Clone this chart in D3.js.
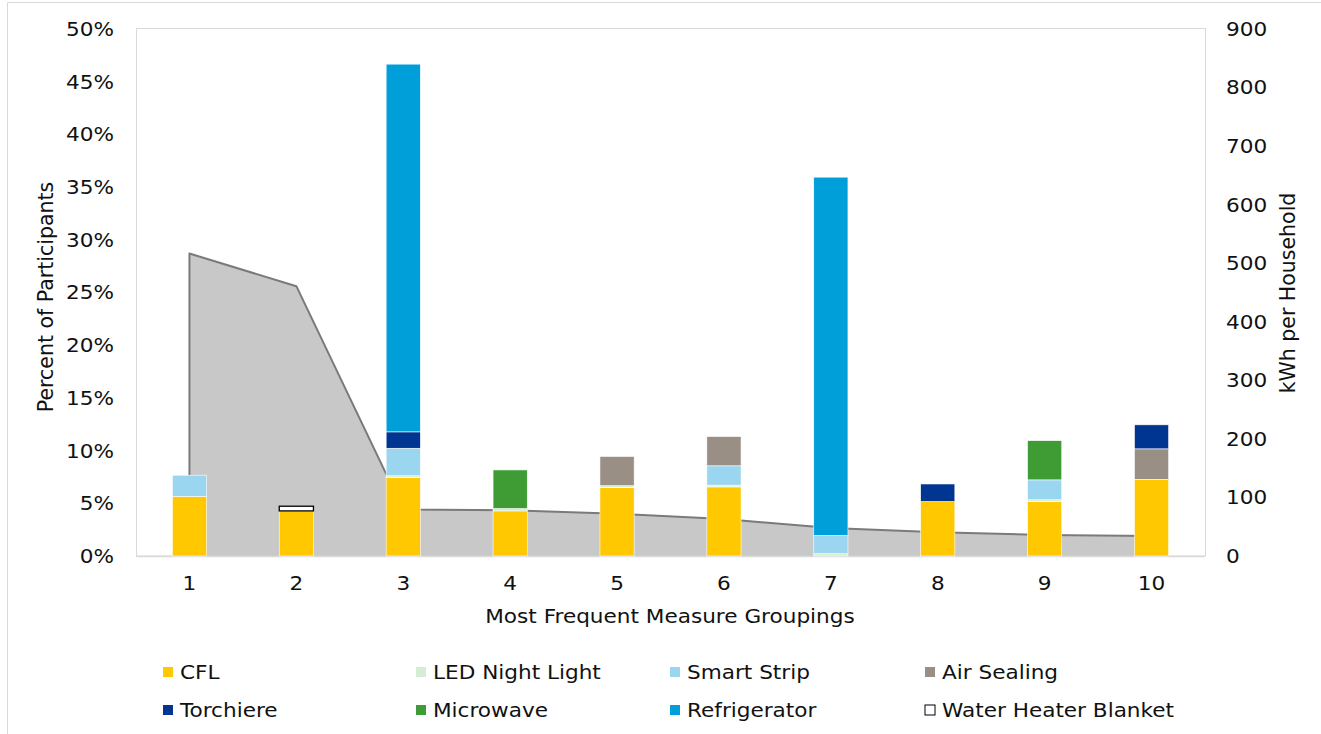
<!DOCTYPE html>
<html>
<head>
<meta charset="utf-8">
<script src="https://cdn.jsdelivr.net/npm/d3@7"></script>
<style>
  html, body { margin: 0; padding: 0; background: #fff; }
  svg { display: block; }
  text { font-family: "DejaVu Sans", Verdana, sans-serif; fill: #111; }
</style>
</head>
<body>
<svg id="chart" width="1321" height="734"></svg>
<script>
// Measure groupings along the x axis
const categories = ["1", "2", "3", "4", "5", "6", "7", "8", "9", "10"];

// Share of participants in each grouping (left axis, %)
const participantPct = [28.7, 25.6, 4.4, 4.35, 4.0, 3.5, 2.65, 2.25, 2.0, 1.9];

// Savings per household by measure (right axis, kWh)
const measures = ["CFL", "LED Night Light", "Smart Strip", "Air Sealing",
                  "Torchiere", "Microwave", "Refrigerator", "Water Heater Blanket"];
const cfl                = [102, 77, 134, 77, 117, 118,   0, 93, 93, 131];
const ledNightLight      = [  0,  0,   3,  4,   3,   3,   4,  0,  3,   0];
const smartStrip         = [ 36,  0,  47,  0,   0,  33,  31,  0, 34,   0];
const airSealing         = [  0,  0,   0,  0,  50,  50,   0,  0,  0,  52];
const torchiere          = [  0,  0,  28,  0,   0,   0,   0, 30,  0,  41];
const microwave          = [  0,  0,   0, 66,   0,   0,   0,  0, 67,   0];
const refrigerator       = [  0,  0, 628,  0,   0,   0, 612,  0,  0,   0];
const waterHeaterBlanket = [  0,  8,   0,  0,   0,   0,   0,  0,  0,   0];

const leftTicks = [0, 5, 10, 15, 20, 25, 30, 35, 40, 45, 50];
const rightTicks = [0, 100, 200, 300, 400, 500, 600, 700, 800, 900];

const colors = {
  "CFL": "#FFC800",
  "LED Night Light": "#D5EED3",
  "Smart Strip": "#9AD6EF",
  "Air Sealing": "#998F85",
  "Torchiere": "#003591",
  "Microwave": "#3F9C35",
  "Refrigerator": "#009FDA",
  "Water Heater Blanket": "#FFFFFF"
};

const seriesValues = [cfl, ledNightLight, smartStrip, airSealing,
                      torchiere, microwave, refrigerator, waterHeaterBlanket];

const table = categories.map((c, i) => {
  const row = { category: c };
  measures.forEach((m, k) => { row[m] = seriesValues[k][i]; });
  return row;
});

const svg = d3.select("#chart");
const plot = { left: 136, right: 1205, top: 29, bottom: 556 };
const fs = 20;      // label font size
const sx = 1.08;    // horizontal widening of the label face

// widen horizontal text around its own anchor point
function widen(sel) {
  sel.each(function () {
    const t = d3.select(this);
    const ax = +(t.attr("x") || 0);
    t.attr("transform", `translate(${ax},0) scale(${sx},1) translate(${-ax},0)`);
  });
}

// outer chart frame
svg.append("path")
  .attr("d", "M7.5,740 V2.5 H1330")
  .attr("fill", "none").attr("stroke", "#D9D9D9").attr("stroke-width", 1);

const x = d3.scaleBand().domain(categories)
  .range([plot.left, plot.right]).paddingInner(0.68).paddingOuter(0.34);
const yLeft = d3.scaleLinear().domain([0, 50]).range([plot.bottom, plot.top]);
const yRight = d3.scaleLinear().domain([0, 900]).range([plot.bottom, plot.top]);
const cx = c => x(c) + x.bandwidth() / 2;

// plot-area frame
svg.append("rect")
  .attr("x", plot.left + 0.5).attr("y", plot.top - 0.5)
  .attr("width", plot.right - plot.left).attr("height", plot.bottom - plot.top + 0.5)
  .attr("fill", "none").attr("stroke", "#D9D9D9").attr("stroke-width", 1);

// participant share as a shaded area
const pts = categories.map((c, i) => [cx(c), yLeft(participantPct[i])]);
const area = d3.area().x(d => d[0]).y0(yLeft(0)).y1(d => d[1]);
svg.append("path").datum(pts)
  .attr("d", area).attr("fill", "#C8C8C8");
const outline = d3.line();
svg.append("path")
  .datum([[pts[0][0], yLeft(0)], ...pts, [pts[pts.length - 1][0], yLeft(0)]])
  .attr("d", outline)
  .attr("fill", "none").attr("stroke", "#7A7A7A").attr("stroke-width", 2)
  .attr("stroke-linejoin", "round");

// x axis baseline
svg.append("line")
  .attr("x1", plot.left).attr("x2", plot.right)
  .attr("y1", plot.bottom + 0.5).attr("y2", plot.bottom + 0.5)
  .attr("stroke", "#D9D9D9").attr("stroke-width", 1.5);

// stacked savings bars
const stack = d3.stack().keys(measures);
const layers = stack(table);
svg.append("g").selectAll("g").data(layers).join("g")
  .attr("fill", d => colors[d.key])
  .attr("stroke", d => d.key === "Water Heater Blanket" ? "#000" : "#fff")
  .attr("stroke-width", d => d.key === "Water Heater Blanket" ? 1.3 : 0.6)
  .selectAll("rect")
  .data(d => d.filter(s => s[1] - s[0] > 0))
  .join("rect")
  .attr("x", s => x(s.data.category))
  .attr("width", x.bandwidth())
  .attr("y", s => yRight(s[1]))
  .attr("height", s => yRight(s[0]) - yRight(s[1]));

// left axis
const leftAxis = d3.axisLeft(yLeft).tickValues(leftTicks)
  .tickFormat(d => d + "%").tickSize(0).tickPadding(22);
const gl = svg.append("g").attr("transform", `translate(${plot.left},0)`).call(leftAxis);
gl.select(".domain").remove();
gl.selectAll("text").attr("font-size", fs).attr("font-family", null).attr("fill", "#111").call(widen);

// right axis
const rightAxis = d3.axisRight(yRight).tickValues(rightTicks)
  .tickSize(0).tickPadding(21);
const gr = svg.append("g").attr("transform", `translate(${plot.right},0)`).call(rightAxis);
gr.select(".domain").remove();
gr.selectAll("text").attr("font-size", fs).attr("font-family", null).attr("fill", "#111").call(widen);

// category axis
const bottomAxis = d3.axisBottom(x).tickSize(0).tickPadding(20);
const gb = svg.append("g").attr("transform", `translate(0,${plot.bottom})`).call(bottomAxis);
gb.select(".domain").remove();
gb.selectAll("text").attr("font-size", fs).attr("font-family", null).attr("fill", "#111").call(widen);

// axis titles
svg.append("text")
  .attr("transform", "translate(53,297) rotate(-90)")
  .attr("text-anchor", "middle").attr("font-size", 20.5)
  .text("Percent of Participants");
svg.append("text")
  .attr("transform", "translate(1295,293) rotate(-90)")
  .attr("text-anchor", "middle").attr("font-size", 20.5)
  .text("kWh per Household");
svg.append("text")
  .attr("x", 670).attr("y", 623)
  .attr("text-anchor", "middle").attr("font-size", fs)
  .text("Most Frequent Measure Groupings")
  .call(widen);

// legend
const legendCols = [163, 416, 670, 925];
const legendRows = [672, 710];
const lg = svg.append("g").selectAll("g").data(measures).join("g")
  .attr("transform", (d, i) => `translate(${legendCols[i % 4]},${legendRows[Math.floor(i / 4)]})`);
lg.append("rect")
  .attr("x", 0).attr("y", -5).attr("width", 10).attr("height", 10)
  .attr("fill", d => colors[d])
  .attr("stroke", d => d === "Water Heater Blanket" ? "#000" : "none")
  .attr("stroke-width", 1);
lg.append("text")
  .attr("x", 17).attr("y", 0).attr("dy", "0.35em")
  .attr("font-size", fs)
  .text(d => d)
  .call(widen);
</script>
</body>
</html>
